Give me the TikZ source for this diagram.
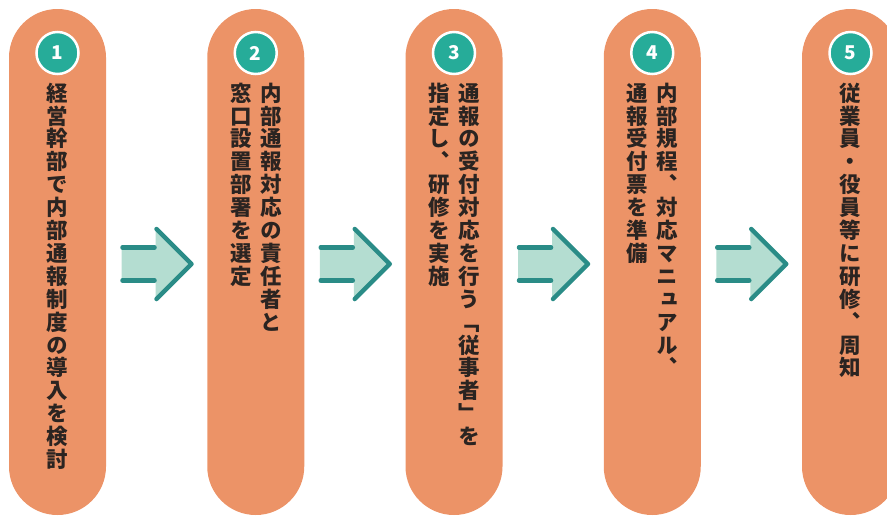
\documentclass[tikz,border=0pt]{standalone}
\usepackage{fontspec}
\newfontfamily\jp{Noto Sans CJK JP}[RawFeature=+vert]
\newfontfamily\jpnum{Noto Sans CJK JP}
\definecolor{pillc}{HTML}{EC9367}
\definecolor{circc}{HTML}{26AC99}
\definecolor{arrline}{HTML}{2A8C87}
\definecolor{arrfill}{HTML}{B4DDD1}
\definecolor{txtc}{HTML}{2B2421}
\newlength\vcgap
\setlength\vcgap{1.4pt}
\makeatletter
\newcommand\vcol[1]{\vbox{\offinterlineskip\@tfor\vc@ch:=#1\do{\hbox to 1em{\hss\rule[-0.12em]{0pt}{1em}\vc@ch\hss}\kern\vcgap}}}
\makeatother
\tikzset{
  pillbox/.style={fill=pillc, rounded corners=48.5pt},
  numcirc/.style={circle, fill=circc, draw=white, line width=2.5pt, minimum size=42pt, inner sep=0pt,
     text=white, font=\jpnum\bfseries\fontsize{19pt}{19pt}\selectfont},
  coltext/.style={anchor=north, inner sep=0pt, text=txtc, font=\jp\bfseries\fontsize{21.5pt}{21.5pt}\selectfont},
  arrbody/.style={fill=arrfill},
  arredge/.style={draw=arrline, line width=4.5pt, line cap=round, line join=round},
}
\begin{document}
\begin{tikzpicture}[x=1pt,y=-1pt]
\useasboundingbox (0,0) rectangle (887,515);
\begin{scope}
\clip (0,0) rectangle (887,515);
\foreach \i in {0,...,4}{
  \fill[pillbox] ({9+198.25*\i},9) rectangle ++(97,506);
}
\end{scope}
% number circles
\node[numcirc] (n1) at (57.5,53) {1};
\node[numcirc] (n2) at (255.75,53) {2};
\node[numcirc] (n3) at (454,53) {3};
\node[numcirc] (n4) at (652.25,53) {4};
\node[numcirc] (n5) at (850.5,53) {5};
% texts
\node[coltext] (t1) at (57.5,82) {\vcol{経営幹部で内部通報制度の導入を検討}};
\node[coltext] (t2a) at (270.75,82) {\vcol{内部通報対応の責任者と}};
\node[coltext] (t2b) at (240.75,82) {\vcol{窓口設置部署を選定}};
\node[coltext] (t3a) at (469,82) {\vcol{通報の受付対応を行う「従事者」を}};
\node[coltext] (t3b) at (439,82) {\vcol{指定し、研修を実施}};
\node[coltext] (t4a) at (667.5,82) {\vcol{内部規程、対応マニュアル、}};
\node[coltext] (t4b) at (637,82) {\vcol{通報受付票を準備}};
\node[coltext] (t5) at (850.5,82) {\vcol{従業員・役員等に研修、周知}};
% arrows
\foreach \cx [count=\k] in {156.5,354.75,553,751.25}{
  \coordinate (a\k) at (\cx,264);
  \fill[arrbody] ([shift={(-35,-16.5)}]a\k) -- ([shift={(-1,-16.5)}]a\k) -- ([shift={(-1,-35)}]a\k)
     -- ([shift={(35,0)}]a\k) -- ([shift={(-1,35)}]a\k) -- ([shift={(-1,16.5)}]a\k)
     -- ([shift={(-35,16.5)}]a\k) -- cycle;
  \draw[arredge] ([shift={(-34,-16.5)}]a\k) -- ([shift={(-2,-16.5)}]a\k);
  \draw[arredge] ([shift={(-34,16.5)}]a\k) -- ([shift={(-2,16.5)}]a\k);
  \draw[arredge] ([shift={(0,-35)}]a\k) -- ([shift={(35,0)}]a\k) -- ([shift={(0,35)}]a\k);
}
\end{tikzpicture}
\end{document}
